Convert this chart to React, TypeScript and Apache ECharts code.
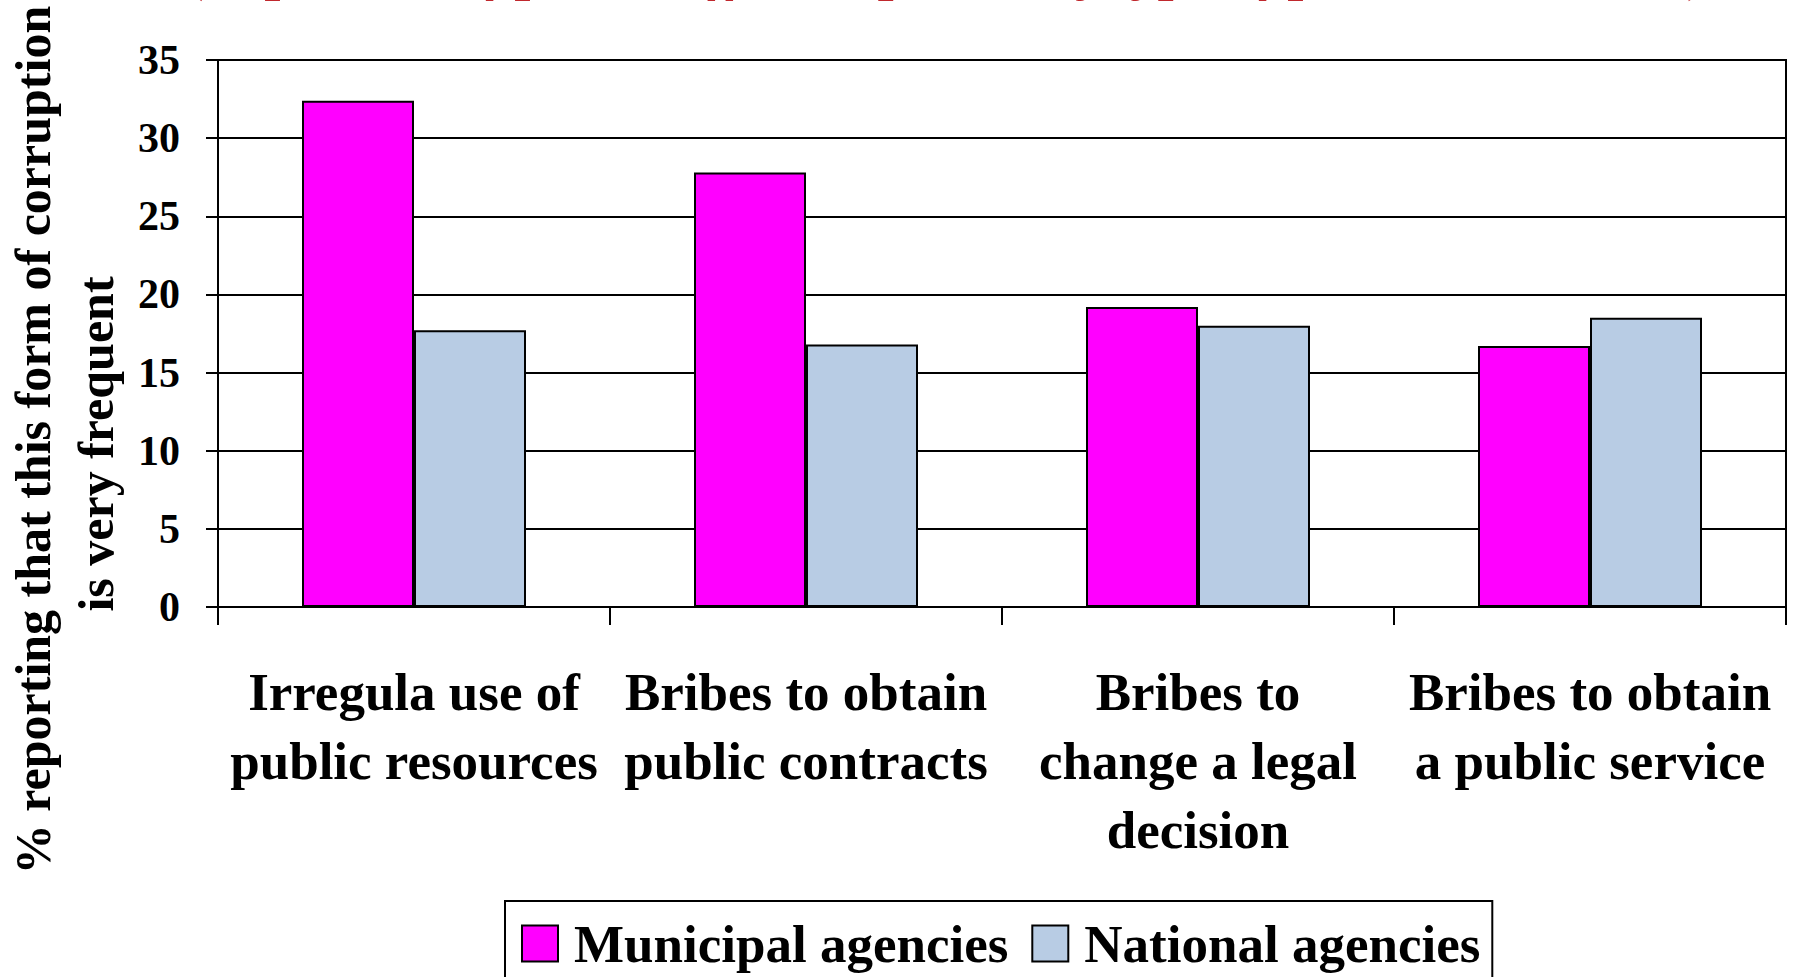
import React, { useEffect, useRef } from "react";
import * as echarts from "echarts";

const categories = [
  "Irregula use of\npublic resources",
  "Bribes to obtain\npublic contracts",
  "Bribes to\nchange a legal\ndecision",
  "Bribes to obtain\na public service",
];
const municipal = [32.4, 27.8, 19.2, 16.7];
const national = [17.7, 16.8, 18.0, 18.5];
const seriesNames = ["Municipal agencies", "National agencies"];
const yTitleLines = ["% reporting that this form of corruption", "is very frequent"];
const topTitle = "(in percent of public officials polled, by type of public institution)";

const FONT = '"Liberation Serif", "Times New Roman", serif';

export default function App() {
  const ref = useRef<HTMLDivElement>(null);
  useEffect(() => {
    document.body.style.margin = "0";
    const chart = echarts.init(ref.current!, null, { renderer: "svg" });
    chart.setOption({
      animation: false,
      backgroundColor: "#ffffff",
      grid: {
        left: 218,
        right: 11,
        top: 60,
        bottom: 370,
        show: true,
        borderColor: "#000",
        borderWidth: 2,
        backgroundColor: "transparent",
      },
      legend: {
        left: 505,
        top: 901,
        orient: "horizontal",
        itemWidth: 36,
        itemHeight: 36,
        itemGap: 23,
        padding: [16, 12, 16, 16],
        borderColor: "#000",
        borderWidth: 2,
        icon: "rect",
        textStyle: {
          fontFamily: FONT,
          fontSize: 53,
          fontWeight: "bold",
          color: "#000",
          padding: [0, 0, 0, 11],
        },
        data: seriesNames,
      },
      xAxis: {
        type: "category",
        data: categories,
        boundaryGap: true,
        axisLine: { show: true, lineStyle: { color: "#000", width: 2 } },
        axisTick: { show: true, length: 18, interval: 0, lineStyle: { color: "#000", width: 2 } },
        axisLabel: {
          interval: 0,
          margin: 50,
          fontFamily: FONT,
          fontSize: 53,
          fontWeight: "bold",
          color: "#000",
          lineHeight: 69,
        },
        splitLine: { show: false },
      },
      yAxis: {
        type: "value",
        min: 0,
        max: 35,
        interval: 5,
        axisLine: { show: true, lineStyle: { color: "#000", width: 2 } },
        axisTick: { show: true, length: 12, lineStyle: { color: "#000", width: 2 } },
        axisLabel: {
          margin: 38,
          fontFamily: FONT,
          fontSize: 42,
          fontWeight: "bold",
          color: "#000",
        },
        splitLine: { show: true, lineStyle: { color: "#000", width: 2 } },
      },
      series: [
        {
          name: seriesNames[0],
          type: "bar",
          data: municipal,
          barWidth: 112,
          barGap: "0%",
          itemStyle: { color: "#FF00FF", borderColor: "#000", borderWidth: 2 },
        },
        {
          name: seriesNames[1],
          type: "bar",
          data: national,
          barWidth: 112,
          barGap: "0%",
          itemStyle: { color: "#B8CCE4", borderColor: "#000", borderWidth: 2 },
        },
      ],
      graphic: [
        {
          type: "text",
          x: 950,
          y: -31,
          style: {
            text: topTitle,
            font: `italic bold 57px ${FONT}`,
            fill: "#C0282D",
            textAlign: "center",
            textVerticalAlign: "middle",
          },
        },
        {
          type: "text",
          x: 33,
          y: 440,
          rotation: Math.PI / 2,
          style: {
            text: yTitleLines[0],
            font: `bold 50px ${FONT}`,
            fill: "#000",
            textAlign: "center",
            textVerticalAlign: "middle",
          },
        },
        {
          type: "text",
          x: 96,
          y: 444,
          rotation: Math.PI / 2,
          style: {
            text: yTitleLines[1],
            font: `bold 50px ${FONT}`,
            fill: "#000",
            textAlign: "center",
            textVerticalAlign: "middle",
          },
        },
      ],
    });
    return () => chart.dispose();
  }, []);
  return (
    <div
      ref={ref}
      style={{ position: "absolute", left: 0, top: 0, width: 1797, height: 977, overflow: "hidden" }}
    />
  );
}
